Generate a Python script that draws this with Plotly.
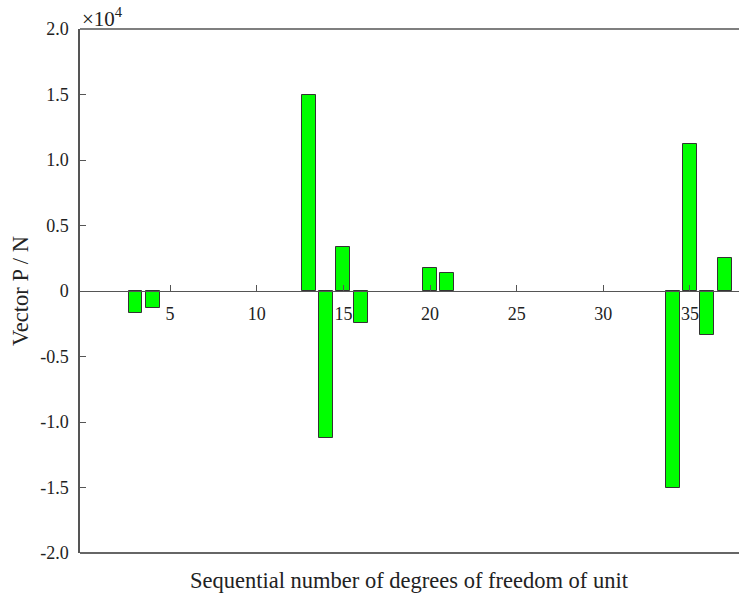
import plotly.graph_objects as go

dof = [3, 4, 13, 14, 15, 16, 20, 21, 34, 35, 36, 37]
vector_p = [-1700, -1320, 15000, -11240, 3330, -2470, 1780, 1350, -15000, 11240, -3330, 2500]

x_ticks = [5, 10, 15, 20, 25, 30, 35]
y_ticks = [-20000, -15000, -10000, -5000, 0, 5000, 10000, 15000, 20000]
y_tick_text = ["-2.0", "-1.5", "-1.0", "-0.5", "0", "0.5", "1.0", "1.5", "2.0"]

font_family = "Liberation Serif"
axis_color = "#555555"
text_color = "#222222"

fig = go.Figure()
fig.add_trace(go.Bar(
    x=dof, y=vector_p, width=0.8,
    marker=dict(color="#00FF00", line=dict(color="#333333", width=1)),
    showlegend=False,
))

fig.update_layout(
    width=739, height=598,
    margin=dict(l=80, r=0, t=29, b=45),
    paper_bgcolor="white", plot_bgcolor="white",
    font=dict(family=font_family, size=18, color=text_color),
    bargap=0,
    xaxis=dict(
        range=[-0.2, 37.83],
        tickvals=x_ticks, ticktext=[str(v) for v in x_ticks],
        anchor="free", position=0.5,
        showline=True, linecolor=axis_color, linewidth=1,
        ticks="inside", ticklen=6, tickcolor=axis_color,
        showgrid=False, zeroline=False,
        ticklabelstandoff=6,
        tickfont=dict(family=font_family, size=18, color=text_color),
    ),
    yaxis=dict(
        range=[-20000, 20000],
        tickvals=y_ticks, ticktext=y_tick_text,
        showline=True, linecolor=axis_color, linewidth=1.5,
        ticks="inside", ticklen=6, tickcolor=axis_color,
        showgrid=False, zeroline=False,
        ticklabelstandoff=6,
        tickfont=dict(family=font_family, size=18, color=text_color),
        title=dict(text="Vector P / N", font=dict(family=font_family, size=22.5, color=text_color), standoff=5),
    ),
    shapes=[
        dict(type="line", xref="paper", yref="paper", x0=0, x1=1, y0=1, y1=1,
             line=dict(color=axis_color, width=1.5)),
        dict(type="line", xref="paper", yref="paper", x0=0, x1=1, y0=0, y1=0,
             line=dict(color="#333333", width=1.5)),
    ],
    annotations=[
        dict(text="×10<sup>4</sup>", xref="paper", yref="paper", x=0.0, y=1.0,
             xanchor="left", yanchor="bottom", showarrow=False,
             font=dict(family=font_family, size=21, color=text_color), yshift=-4),
        dict(text="Sequential number of degrees of freedom of unit", xref="paper", yref="paper",
             x=0.5, y=0, xanchor="center", yanchor="top", yshift=-13, showarrow=False,
             font=dict(family=font_family, size=22.5, color=text_color)),
    ],
)

fig.write_html("out.html")
